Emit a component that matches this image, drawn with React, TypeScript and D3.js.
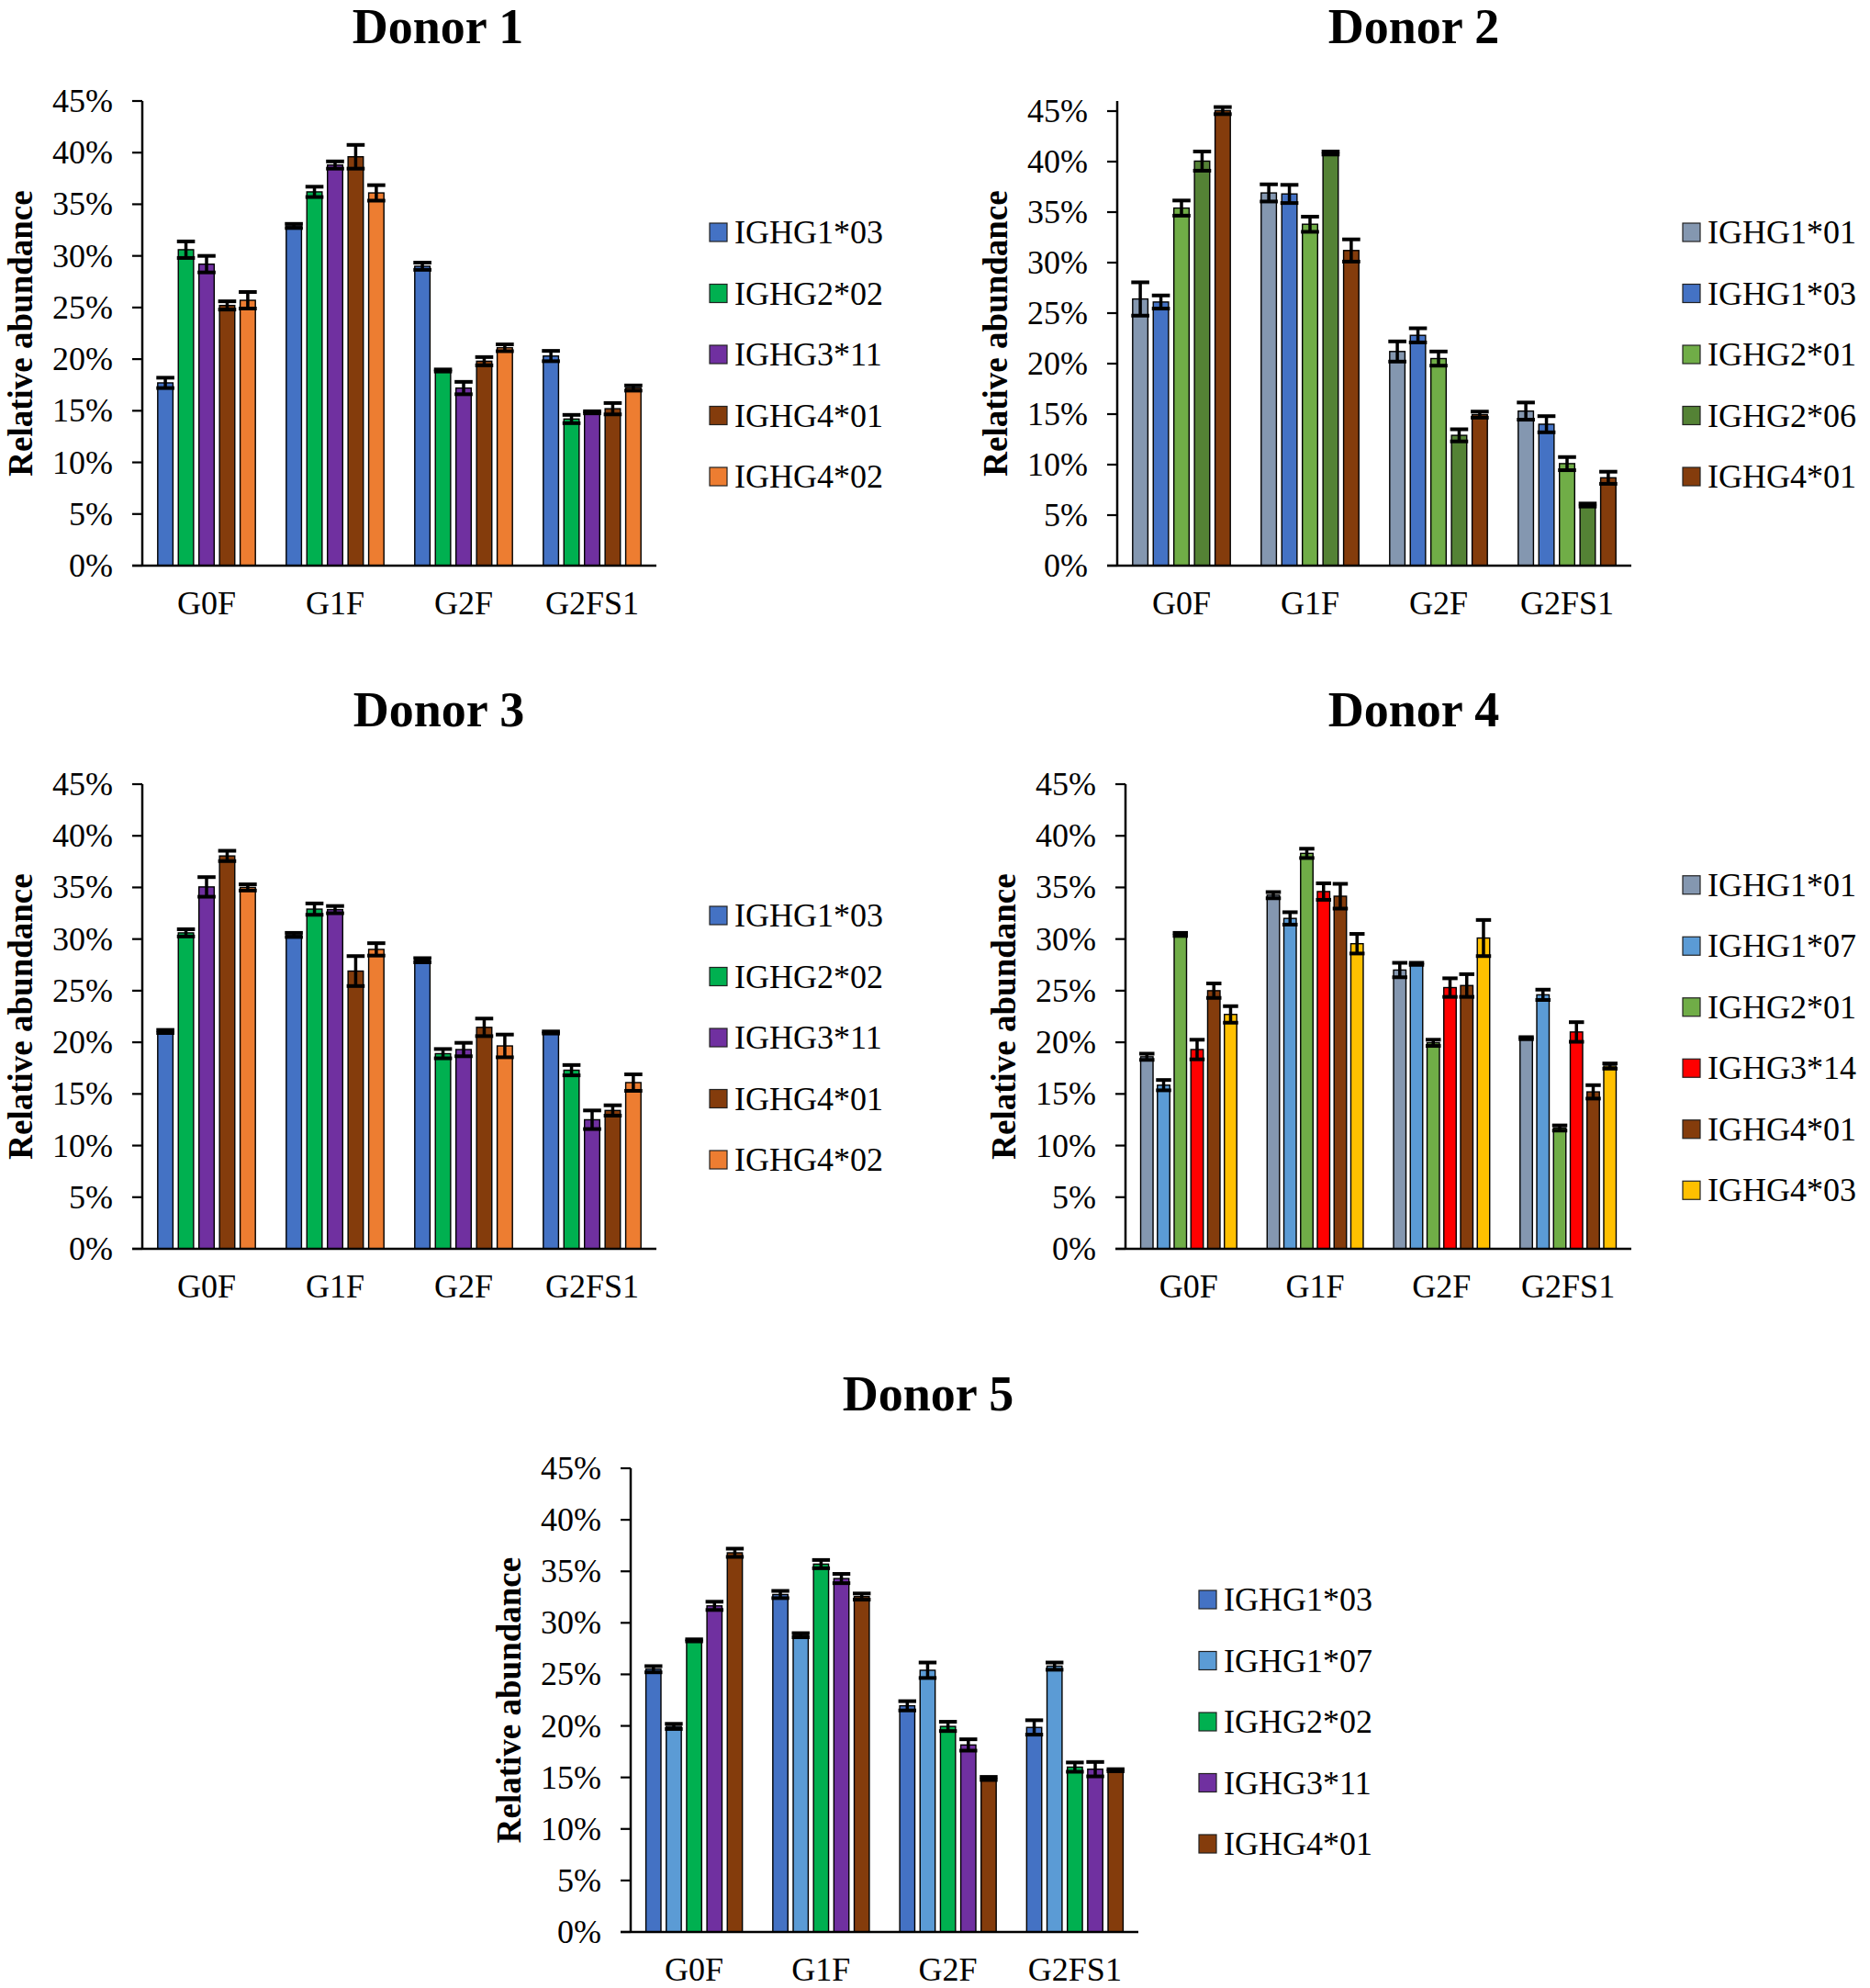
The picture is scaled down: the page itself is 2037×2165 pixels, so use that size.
import * as d3 from "d3"

const categories = ["G0F", "G1F", "G2F", "G2FS1"]
const yTicks = [0, 5, 10, 15, 20, 25, 30, 35, 40, 45]

const donor1Alleles = ["IGHG1*03", "IGHG2*02", "IGHG3*11", "IGHG4*01", "IGHG4*02"]
const donor1Values = [
  [17.7, 32.9, 29.0, 20.3],
  [30.6, 36.2, 18.9, 14.2],
  [29.2, 38.8, 17.2, 14.85],
  [25.2, 39.6, 19.8, 15.2],
  [25.7, 36.1, 21.1, 17.2],
]
const donor1Errors = [
  [0.5, 0.2, 0.35, 0.5],
  [0.8, 0.5, 0.1, 0.4],
  [0.8, 0.35, 0.6, 0.1],
  [0.4, 1.15, 0.4, 0.55],
  [0.8, 0.75, 0.33, 0.25],
]

const donor2Alleles = ["IGHG1*01", "IGHG1*03", "IGHG2*01", "IGHG2*06", "IGHG4*01"]
const donor2Values = [
  [26.4, 36.9, 21.2, 15.3],
  [26.1, 36.8, 22.8, 14.0],
  [35.4, 33.8, 20.5, 10.1],
  [40.05, 40.85, 12.9, 6.0],
  [45.05, 31.2, 14.95, 8.7],
]
const donor2Errors = [
  [1.65, 0.85, 1.0, 0.85],
  [0.65, 0.9, 0.7, 0.8],
  [0.75, 0.75, 0.7, 0.65],
  [0.95, 0.15, 0.6, 0.15],
  [0.35, 1.1, 0.3, 0.6],
]

const donor3Alleles = ["IGHG1*03", "IGHG2*02", "IGHG3*11", "IGHG4*01", "IGHG4*02"]
const donor3Values = [
  [21.05, 30.4, 27.95, 20.95],
  [30.6, 32.9, 18.9, 17.3],
  [35.05, 32.85, 19.3, 12.5],
  [38.05, 26.9, 21.45, 13.4],
  [35.0, 29.0, 19.65, 16.1],
]
const donor3Errors = [
  [0.15, 0.2, 0.2, 0.1],
  [0.35, 0.55, 0.45, 0.5],
  [0.95, 0.35, 0.65, 0.9],
  [0.5, 1.45, 0.85, 0.5],
  [0.3, 0.6, 1.1, 0.8],
]

const donor4Alleles = ["IGHG1*01", "IGHG1*07", "IGHG2*01", "IGHG3*14", "IGHG4*01", "IGHG4*03"]
const donor4Values = [
  [18.6, 34.25, 27.0, 20.4],
  [15.85, 32.0, 27.6, 24.6],
  [30.45, 38.3, 19.95, 11.7],
  [19.3, 34.6, 25.3, 21.0],
  [25.0, 34.15, 25.5, 15.2],
  [22.7, 29.55, 30.1, 17.7],
]
const donor4Errors = [
  [0.3, 0.3, 0.7, 0.1],
  [0.5, 0.6, 0.1, 0.5],
  [0.15, 0.45, 0.3, 0.25],
  [0.95, 0.8, 0.9, 0.95],
  [0.7, 1.2, 1.1, 0.65],
  [0.8, 0.95, 1.75, 0.25],
]

const donor5Alleles = ["IGHG1*03", "IGHG1*07", "IGHG2*02", "IGHG3*11", "IGHG4*01"]
const donor5Values = [
  [25.5, 32.75, 21.95, 19.85],
  [19.95, 28.8, 25.4, 25.8],
  [28.3, 35.7, 19.95, 16.0],
  [31.65, 34.3, 18.15, 15.8],
  [36.8, 32.55, 14.9, 15.7],
]
const donor5Errors = [
  [0.3, 0.35, 0.45, 0.7],
  [0.25, 0.2, 0.75, 0.35],
  [0.1, 0.4, 0.45, 0.45],
  [0.4, 0.45, 0.55, 0.7],
  [0.4, 0.3, 0.15, 0.1],
]

// fill per allele, same across donors
const alleleColors: Record<string, string> = {
  "IGHG1*01": "#8497B0",
  "IGHG1*03": "#4472C4",
  "IGHG1*07": "#5B9BD5",
  "IGHG2*01": "#70AD47",
  "IGHG2*02": "#00B050",
  "IGHG2*06": "#548235",
  "IGHG3*11": "#7030A0",
  "IGHG3*14": "#FF0000",
  "IGHG4*01": "#843C0C",
  "IGHG4*02": "#ED7D31",
  "IGHG4*03": "#FFC000",
}

const FONT = "'Liberation Serif', 'Times New Roman', serif"

interface PanelProps {
  title: string
  alleles: string[]
  values: number[][]
  errors: number[][]
  axisX: number
  xEnd: number
  y0: number
  yTop: number
  yMax: number
  titleX: number
  legendX: number
}

function Panel({ title, alleles, values, errors, axisX, xEnd, y0, yTop, yMax, titleX, legendX }: PanelProps) {
  const y = d3.scaleLinear().domain([0, yMax]).range([y0, yTop])
  const x0 = d3.scaleBand<string>().domain(categories).range([axisX, xEnd])
  const groupW = x0.bandwidth() * 0.76
  const x1 = d3.scaleBand<string>()
    .domain(alleles)
    .range([-groupW / 2, groupW / 2])
    .paddingInner(0.26)
  const bw = x1.bandwidth()
  const fmt = d3.format(".0%")
  const legendMid = yTop + 276
  const rowH = 66.5

  return (
    <g>
      <text x={titleX} y={yTop - 63} textAnchor="middle" fontFamily={FONT}
        fontWeight="bold" fontSize={54}>{title}</text>

      <text transform={`translate(${axisX - 120},${(yTop + y0) / 2}) rotate(-90)`}
        textAnchor="middle" fontFamily={FONT} fontWeight="bold" fontSize={37}>
        Relative abundance
      </text>

      {yTicks.map(t => (
        <g key={t}>
          <line x1={axisX - 11} x2={axisX} y1={y(t)} y2={y(t)} stroke="#000" strokeWidth={2.2} />
          <text x={axisX - 32} y={y(t) + 12} textAnchor="end" fontFamily={FONT} fontSize={36}>
            {fmt(t / 100)}
          </text>
        </g>
      ))}

      {alleles.map((a, si) => categories.map((c, ci) => {
        const v = values[si][ci]
        const e = errors[si][ci]
        const cx = x0(c)! + x0.bandwidth() / 2 + x1(a)!
        const mx = cx + bw / 2
        return (
          <g key={a + c}>
            <rect x={cx} y={y(v)} width={bw} height={y0 - y(v)}
              fill={alleleColors[a]} stroke="#000" strokeWidth={1.4} />
            <line x1={mx} x2={mx} y1={y(v + e)} y2={y(v - e)} stroke="#000" strokeWidth={3.5} />
            <line x1={mx - bw / 2 - 1.5} x2={mx + bw / 2 + 1.5} y1={y(v + e)} y2={y(v + e)}
              stroke="#000" strokeWidth={4} />
            <line x1={mx - bw / 2 - 1.5} x2={mx + bw / 2 + 1.5} y1={y(v - e)} y2={y(v - e)}
              stroke="#000" strokeWidth={4} />
          </g>
        )
      }))}

      <line x1={axisX} x2={axisX} y1={y0} y2={y(yMax)} stroke="#000" strokeWidth={2.5} />
      <line x1={axisX - 11} x2={xEnd} y1={y0} y2={y0} stroke="#000" strokeWidth={2.5} />

      {categories.map(c => (
        <text key={c} x={x0(c)! + x0.bandwidth() / 2} y={y0 + 53} textAnchor="middle"
          fontFamily={FONT} fontSize={36}>{c}</text>
      ))}

      {alleles.map((a, i) => {
        const cy = legendMid + (i - (alleles.length - 1) / 2) * rowH
        return (
          <g key={a}>
            <rect x={legendX} y={cy - 10} width={19} height={20} fill={alleleColors[a]}
              stroke="#222" strokeWidth={1.2} />
            <text x={legendX + 27} y={cy + 12} fontFamily={FONT} fontSize={36}>{a}</text>
          </g>
        )
      })}
    </g>
  )
}

export default function App() {
  return (
    <svg width={2037} height={2165} viewBox="0 0 2037 2165"
      style={{ position: "absolute", left: 0, top: 0, background: "#fff" }}>
      <rect width={2037} height={2165} fill="#fff" />
      <Panel title="Donor 1" alleles={donor1Alleles} values={donor1Values} errors={donor1Errors}
        axisX={155} xEnd={715} y0={616} yTop={110} yMax={45} titleX={477} legendX={773} />
      <Panel title="Donor 2" alleles={donor2Alleles} values={donor2Values} errors={donor2Errors}
        axisX={1217} xEnd={1777} y0={616} yTop={110} yMax={46} titleX={1540} legendX={1833} />
      <Panel title="Donor 3" alleles={donor3Alleles} values={donor3Values} errors={donor3Errors}
        axisX={155} xEnd={715} y0={1360} yTop={854} yMax={45} titleX={478} legendX={773} />
      <Panel title="Donor 4" alleles={donor4Alleles} values={donor4Values} errors={donor4Errors}
        axisX={1226} xEnd={1777} y0={1360} yTop={854} yMax={45} titleX={1540} legendX={1833} />
      <Panel title="Donor 5" alleles={donor5Alleles} values={donor5Values} errors={donor5Errors}
        axisX={687} xEnd={1240} y0={2104} yTop={1599} yMax={45} titleX={1011} legendX={1306} />
    </svg>
  )
}
